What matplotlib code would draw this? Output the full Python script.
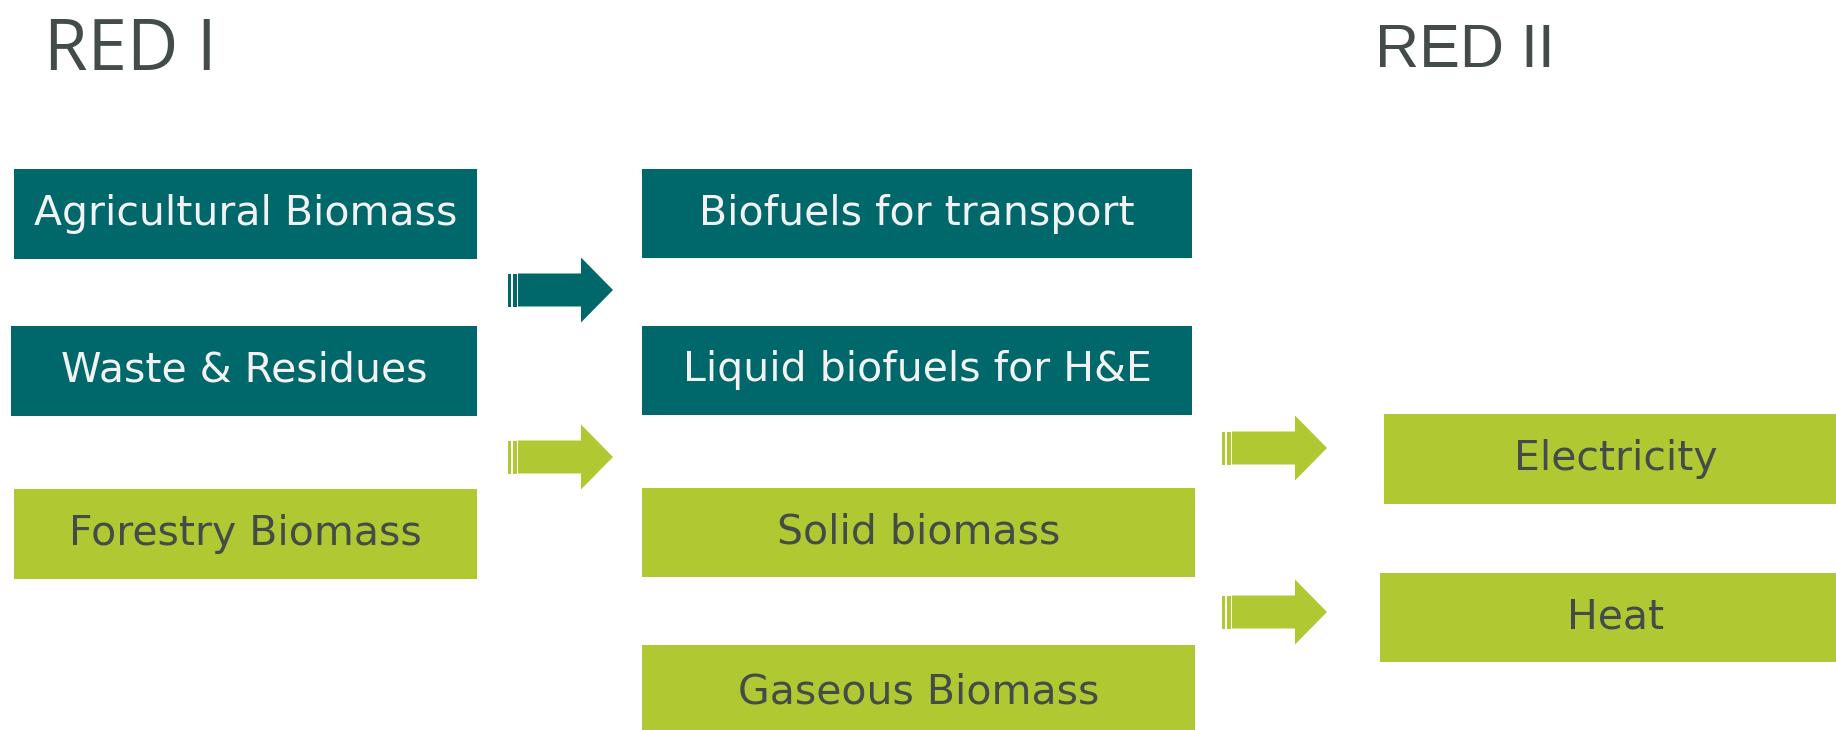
import matplotlib.pyplot as plt
from matplotlib.patches import Rectangle, Polygon

# Labels of the diagram
source_labels = ['Agricultural Biomass', 'Waste & Residues', 'Forestry Biomass']
use_labels = ['Biofuels for transport', 'Liquid biofuels for H&E',
              'Solid biomass', 'Gaseous Biomass']
end_labels = ['Electricity', 'Heat']
titles = ['RED I', 'RED II']

# which boxes belong to RED I (teal) vs RED II (green)
source_red = [1, 1, 2]
use_red = [1, 1, 2, 2]
end_red = [2, 2]

TEAL = '#00676a'
GREEN = '#b0c932'
DARK = '#434c48'
box_col = {1: TEAL, 2: GREEN}
txt_col = {1: '#f2f2f2', 2: DARK}

W, H = 1836, 730
fig = plt.figure(figsize=(W / 100, H / 100), dpi=100)
ax = fig.add_axes([0, 0, 1, 1])
ax.set_xlim(0, W)
ax.set_ylim(H, 0)
ax.axis('off')


def box(x0, x1, y0, y1, label, red, tx=None):
    ax.add_patch(Rectangle((x0, y0), x1 - x0, y1 - y0, color=box_col[red], lw=0))
    if tx is None:
        tx = (x0 + x1) / 2
    ax.text(tx, (y0 + y1) / 2, label, ha='center', va='center',
            fontsize=29.5, color=txt_col[red], family='DejaVu Sans')


def arrow(x0, yc, red):
    c = box_col[red]
    ax.add_patch(Rectangle((x0, yc - 16.5), 2.5, 33, color=c, lw=0))
    ax.add_patch(Rectangle((x0 + 4.5, yc - 16.5), 4, 33, color=c, lw=0))
    ax.add_patch(Polygon([(x0 + 10, yc - 16.5), (x0 + 73, yc - 16.5), (x0 + 73, yc - 32.5),
                          (x0 + 105, yc), (x0 + 73, yc + 32.5), (x0 + 73, yc + 16.5),
                          (x0 + 10, yc + 16.5)], closed=True, color=c, lw=0))


# left column
src_x = [(14, 477), (11, 477), (14, 477)]
src_y = [(169, 259), (326, 416), (489, 579)]
for (x0, x1), (y0, y1), lab, r in zip(src_x, src_y, source_labels, source_red):
    box(x0, x1, y0, y1, lab, r)

# middle column
use_x = [(642, 1192), (642, 1192), (642, 1195), (642, 1195)]
use_y = [(169, 258), (326, 415), (488, 577), (645, 740)]
for (x0, x1), (y0, y1), lab, r in zip(use_x, use_y, use_labels, use_red):
    box(x0, x1, y0, y1, lab, r)

# right column
end_x = [(1384, 1836), (1380, 1836)]
end_y = [(414, 504), (573, 662)]
for (x0, x1), (y0, y1), lab, r in zip(end_x, end_y, end_labels, end_red):
    box(x0, x1, y0, y1, lab, r, tx=1616)

# arrows
arrow(508, 290, 1)
arrow(508, 457, 2)
arrow(1222, 448, 2)
arrow(1222, 612, 2)

ax.text(44, 70, titles[0], fontsize=51, color=DARK, family='Open Sans', va='baseline')
ax.text(1375, 67, titles[1], fontsize=44, color=DARK, family='Liberation Sans', va='baseline')

fig.savefig('out.png', dpi=100)
